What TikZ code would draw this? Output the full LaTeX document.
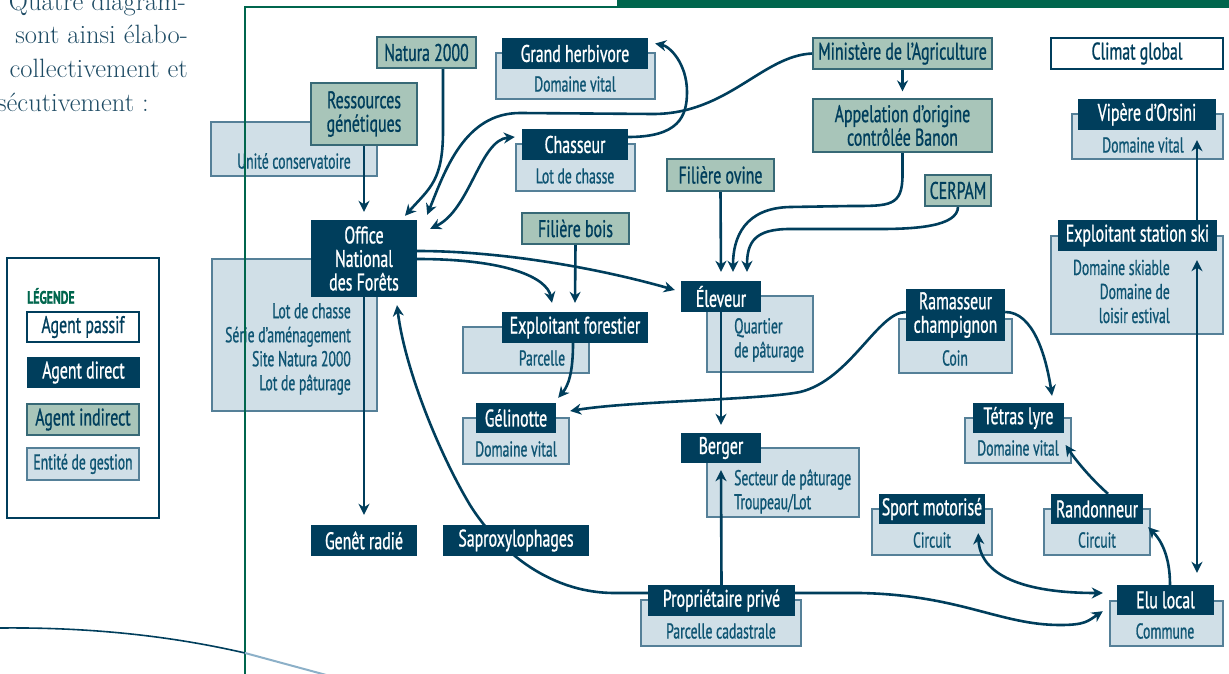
\documentclass[tikz,border=0pt]{standalone}
\usepackage{fontspec}
\usetikzlibrary{arrows.meta}
\newfontfamily\diafont{PT Sans}[FakeStretch=0.66,FakeBold=0.9]
\newfontfamily\subfont{PT Sans}[FakeStretch=0.635,FakeBold=0.8]
\definecolor{dblue}{RGB}{0,62,92}
\definecolor{lblue}{RGB}{208,223,231}
\definecolor{eborder}{RGB}{85,128,152}
\definecolor{etext}{RGB}{15,85,115}
\definecolor{igreen}{RGB}{168,197,185}
\definecolor{iborder}{RGB}{55,105,118}
\definecolor{fgreen}{RGB}{0,102,77}
\definecolor{ptext}{RGB}{30,75,100}
\definecolor{pale}{RGB}{140,176,200}
\pgfdeclarelayer{bg}
\pgfdeclarelayer{lines}
\pgfsetlayers{bg,lines,main}

\begin{document}
\begin{tikzpicture}[x=1pt,y=1pt,>={Stealth[length=11pt,width=11pt,inset=3.5pt]}]
    \tikzstyle{every node}+=[inner sep=0pt,align=center,font=\diafont\fontsize{24}{23.5}\selectfont]
    \tikzstyle{direct}=[fill=dblue,text=white]
    \tikzstyle{indirect}=[fill=igreen,draw=iborder,line width=1.2pt,text=dblue]
    \tikzstyle{passive}=[fill=white,draw=dblue,line width=1.2pt,text=dblue]
    \tikzstyle{entity}=[fill=lblue,draw=eborder,line width=1.2pt]
    \tikzstyle{sub}=[text=etext,font=\subfont\fontsize{21.5}{24}\selectfont]
    \tikzstyle{para}=[text=ptext,font=\rmfamily\fontsize{26.5}{33}\selectfont,anchor=base east]
    \tikzstyle{conn}=[draw=dblue,line width=2.6pt]
    \useasboundingbox (0,0) rectangle (1229,-674);
    \fill [fgreen] (617,0) rectangle (1229,-8.5);
    \draw [fgreen,line width=2pt] (245,-674) -- (245,-7.5) -- (617,-7.5);
    \draw [dblue,line width=1.6pt] (0,-628) .. controls (100,-627) and (180,-638) .. (245,-653);
    \draw [pale,line width=2pt] (245,-653) -- (330,-676);
    \node[para] (pa) at (186,-11) {Quatre diagram-};
    \node[para] (pb) at (188,-44) {sont ainsi élabo-};
    \node[para] (pc) at (188,-78) {collectivement et};
    \node[para] (pd) at (149,-112) {sécutivement :};
    \draw [dblue,line width=2pt] (7,-258) rectangle (159,-518);
    \node[anchor=west,text=fgreen,font=\diafont\bfseries\fontsize{18}{18}\selectfont] (leg) at (27,-296) {LÉGENDE};
    \node[passive,minimum width=112pt,minimum height=30pt] (lp) at (83,-327) {Agent passif};
    \node[direct,minimum width=113pt,minimum height=31pt] (ld) at (83.5,-372.5) {Agent direct};
    \node[indirect,minimum width=112pt,minimum height=31pt] (li) at (83,-419.5) {Agent indirect};
    \node[entity,text=etext,minimum width=112pt,minimum height=32pt,font=\subfont\fontsize{21.5}{22}\selectfont] (le) at (83,-464) {Entité de gestion};
    \node[indirect,minimum width=99pt,minimum height=31pt] (nat) at (426.5,-52.5) {Natura 2000};
    \node[indirect,minimum width=106pt,minimum height=62pt] (res) at (364,-114) {Ressources\\génétiques};
    \node[indirect,minimum width=107pt,minimum height=32pt] (fov) at (720.5,-175) {Filière ovine};
    \node[indirect,minimum width=107pt,minimum height=31pt] (fbo) at (575.5,-228.5) {Filière bois};
    \node[indirect,minimum width=179pt,minimum height=31pt] (min) at (902.5,-53.5) {Ministère de l’Agriculture};
    \node[indirect,minimum width=179pt,minimum height=53pt] (aoc) at (902.5,-125.5) {Appelation d’origine\\contrôlée Banon};
    \node[indirect,minimum width=66pt,minimum height=31pt] (cer) at (958,-190.5) {CERPAM};
    \node[passive,minimum width=172pt,minimum height=31pt] (cli) at (1137,-53.5) {Climat global};
    \node[direct,minimum width=106pt,minimum height=77pt] (onf) at (364,-258.5) {Office\\National\\des Forêts};
    \node[direct,minimum width=146pt,minimum height=31pt] (gh) at (575,-53.5) {Grand herbivore};
    \node[direct,minimum width=106pt,minimum height=31pt] (cha) at (575,-144.5) {Chasseur};
    \node[direct,minimum width=138pt,minimum height=31pt] (vip) at (1147,-114.5) {Vipère d’Orsini};
    \node[direct,minimum width=159pt,minimum height=31pt] (esk) at (1137.5,-235.5) {Exploitant station ski};
    \node[direct,minimum width=99pt,minimum height=52pt] (ram) at (955.5,-315) {Ramasseur\\champignon};
    \node[direct,minimum width=91pt,minimum height=30pt] (tet) at (1018.5,-418) {Tétras lyre};
    \node[direct,minimum width=106pt,minimum height=30pt] (spo) at (932,-509) {Sport motorisé};
    \node[direct,minimum width=92pt,minimum height=30pt] (ran) at (1097,-509) {Randonneur};
    \node[direct,minimum width=97pt,minimum height=30pt] (elu) at (1165.5,-600) {Elu local};
    \node[direct,minimum width=80pt,minimum height=31pt] (ele) at (721,-296.5) {Éleveur};
    \node[direct,minimum width=146pt,minimum height=31pt] (exf) at (575,-327.5) {Exploitant forestier};
    \node[direct,minimum width=80pt,minimum height=30pt] (gel) at (516,-418) {Gélinotte};
    \node[direct,minimum width=80pt,minimum height=30pt] (ber) at (721,-448) {Berger};
    \node[direct,minimum width=106pt,minimum height=31pt] (gen) at (364,-540.5) {Genêt radié};
    \node[direct,minimum width=146pt,minimum height=31pt] (sap) at (516,-540.5) {Saproxylophages};
    \node[direct,minimum width=147pt,minimum height=31pt] (pro) at (721.5,-600.5) {Propriétaire privé};
    \begin{pgfonlayer}{bg}
    \node[entity,minimum width=166pt,minimum height=54pt] (resE) at (294,-149) {};
    \node[sub] (resT) at (294,-161) {Unité conservatoire};
    \node[entity,minimum width=165pt,minimum height=152pt] (onfE) at (294.5,-335) {};
    \node[sub,anchor=east,align=right] (onfT) at (351,-349) {Lot de chasse\\Série d’aménagement\\Site Natura 2000\\Lot de pâturage};
    \node[entity,minimum width=159pt,minimum height=46pt] (ghE) at (575.5,-76) {};
    \node[sub] (ghT) at (575,-84) {Domaine vital};
    \node[entity,minimum width=119pt,minimum height=47pt] (chaE) at (575.5,-167.5) {};
    \node[sub] (chaT) at (575,-176) {Lot de chasse};
    \node[entity,minimum width=151pt,minimum height=45pt] (vipE) at (1147.5,-136.5) {};
    \node[sub] (vipT) at (1143,-145) {Domaine vital};
    \node[entity,minimum width=172pt,minimum height=98pt] (eskE) at (1137,-285) {};
    \node[sub,anchor=east,align=right] (eskT) at (1170,-291.5) {Domaine skiable\\Domaine de\\loisir estival};
    \node[entity,minimum width=113pt,minimum height=54pt] (ramE) at (955.5,-346) {};
    \node[sub] (ramT) at (955,-358) {Coin};
    \node[entity,minimum width=106pt,minimum height=45pt] (tetE) at (1018,-440.5) {};
    \node[sub] (tetT) at (1018,-448) {Domaine vital};
    \node[entity,minimum width=120pt,minimum height=46pt] (spoE) at (932,-532) {};
    \node[sub] (spoT) at (932,-540) {Circuit};
    \node[entity,minimum width=106pt,minimum height=46pt] (ranE) at (1097,-532) {};
    \node[sub] (ranT) at (1097,-540) {Circuit};
    \node[entity,minimum width=113pt,minimum height=45pt] (eluE) at (1166.5,-623.5) {};
    \node[sub] (eluT) at (1165,-631) {Commune};
    \node[entity,minimum width=106pt,minimum height=76pt] (eleE) at (760,-334) {};
    \node[sub,anchor=west,align=left] (eleT) at (734,-340) {Quartier\\de pâturage};
    \node[entity,minimum width=126pt,minimum height=46pt] (exfE) at (526,-350) {};
    \node[sub] (exfT) at (542,-358) {Parcelle};
    \node[entity,minimum width=106pt,minimum height=46pt] (gelE) at (516,-441) {};
    \node[sub] (gelT) at (516,-449) {Domaine vital};
    \node[entity,minimum width=152pt,minimum height=69pt] (berE) at (783,-482.5) {};
    \node[sub,anchor=west,align=left] (berT) at (734,-491.5) {Secteur de pâturage\\Troupeau/Lot};
    \node[entity,minimum width=160pt,minimum height=46pt] (proE) at (721,-623) {};
    \node[sub] (proT) at (721,-631) {Parcelle cadastrale};
    \end{pgfonlayer}
    \begin{pgfonlayer}{lines}
    \draw[conn,->] (res.south) -- ([yshift=8pt]onf.north);
    \draw[conn,->] ([xshift=16.5pt]nat.south) -- ++(0,-62) .. controls +(0,-50) and +(25,28) .. ([xshift=41pt,yshift=4pt]onf.north);
    \draw[conn,->] (min.west) .. controls +(-50,-2) and +(75,0) .. (653,-114) -- (520,-113) .. controls +(-55,0) and +(18,45) .. ([xshift=10pt,yshift=5pt]onf.north east);
    \draw[conn,<->] ([xshift=13pt,yshift=-9pt]onf.north east) .. controls +(40,19) and +(-35,-3) .. ([xshift=-7pt,yshift=7.5pt]cha.west);
    \draw[conn,->] ([yshift=7.5pt]cha.east) .. controls +(50,0) and +(0,-25) .. (687,-92) .. controls +(0,28) and +(15,-3) .. ([xshift=7pt,yshift=10pt]gh.east);
    \draw[conn,->] (min.south) -- ([yshift=7pt]aoc.north);
    \draw[conn,->] (aoc.south) -- ++(0,-22) .. controls +(0,-32) and +(40,0) .. (850,-206) -- (790,-207) .. controls +(-45,-1) and +(0,35) .. ([xshift=12pt,yshift=9pt]ele.north);
    \draw[conn,->] (cer.south) .. controls +(0,-20) and +(35,0) .. (880,-229) -- (790,-229) .. controls +(-35,0) and +(0,30) .. ([xshift=26pt,yshift=9pt]ele.north);
    \draw[conn,->] (fov.south) -- ([yshift=9pt]ele.north);
    \draw[conn,->] ([yshift=7.5pt]onf.east) .. controls +(90,0) and +(-70,20) .. ([xshift=-6pt,yshift=6.5pt]ele.west);
    \draw[conn,->] ([yshift=-0.5pt]onf.east) .. controls +(90,0) and +(-5,25) .. ([xshift=-23pt,yshift=9pt]exf.north);
    \draw[conn,->] (fbo.south) -- ([yshift=9pt]exf.north);
    \draw[conn,->] ([xshift=-2pt]exf.south) .. controls +(0,-30) and +(10,12) .. ([xshift=2pt,yshift=5pt]gel.north east);
    \draw[conn,->] ([yshift=3pt]ram.west) .. controls +(-28,0) and +(50,12) .. (800,-392) .. controls +(-40,-8) and +(60,10) .. ([xshift=14pt,yshift=7pt]gel.east);
    \draw[conn,->] ([yshift=3pt]ram.east) .. controls +(28,0) and +(-6,40) .. ([xshift=33.5pt,yshift=7pt]tet.north);
    \draw[conn,->] (ele.south) -- ([yshift=8pt]ber.north);
    \draw[conn,->] (pro.north) -- ([yshift=-7pt]ber.south);
    \draw[conn,->] ([yshift=7.5pt]pro.west) -- ++(-33,0) .. controls +(-70,0) and +(25,-40) .. (470,-505) .. controls +(-30,50) and +(8,-65) .. ([xshift=33pt,yshift=-8pt]onf.south);
    \draw[conn,->] ([yshift=7.5pt]pro.east) -- ++(65,0) .. controls +(100,-2) and +(-60,0) .. (1060,-625) .. controls +(25,0) and +(-15,-10) .. ([xshift=-14pt,yshift=4pt]elu.south west);
    \draw[conn,<->] ([xshift=-7pt,yshift=-9pt]spo.south east) .. controls +(2,-42) and +(-80,0) .. ([xshift=-14pt,yshift=7pt]elu.west);
    \draw[conn,->] ([xshift=4.5pt]elu.north) .. controls +(0,30) and +(12,-12) .. ([xshift=5pt,yshift=-3pt]ran.south east);
    \draw[conn,->] ([xshift=11pt]ran.north) .. controls +(-18,16) and +(10,-15) .. ([xshift=-6pt,yshift=-4.5pt]tetE.east);
    \draw[conn,<->] ([xshift=59.5pt,yshift=-9pt]esk.south) -- ([xshift=31.5pt,yshift=12pt]elu.north);
    \draw[conn,->] ([xshift=59.5pt]esk.north) -- ([xshift=50pt,yshift=-10pt]vip.south);
    \draw[conn,->] (onf.south) -- ([yshift=10pt]gen.north);
    \end{pgfonlayer}
\end{tikzpicture}
\end{document}
